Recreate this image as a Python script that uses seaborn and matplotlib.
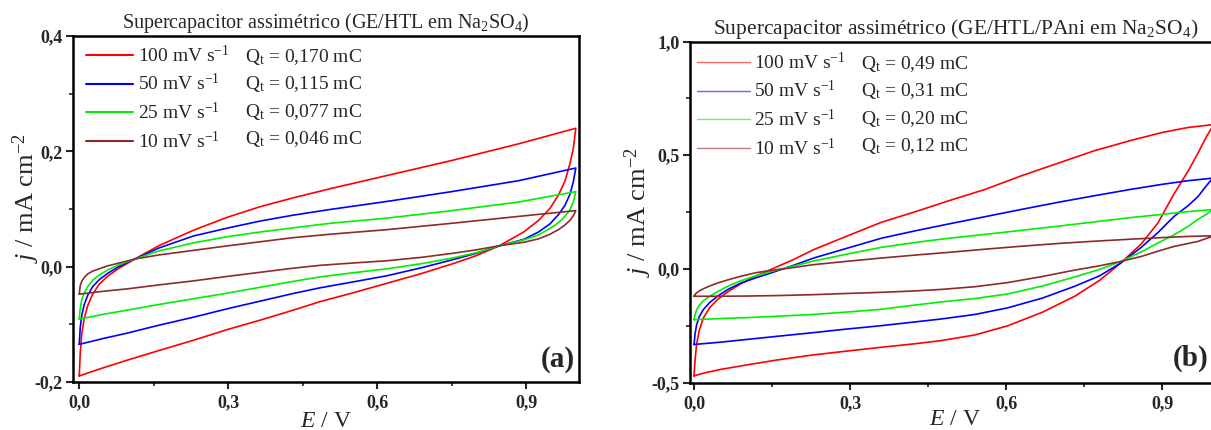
import matplotlib
matplotlib.use("Agg")
import matplotlib.pyplot as plt
from matplotlib.lines import Line2D
from matplotlib.ticker import FixedLocator, MultipleLocator
import pandas as pd
import seaborn as sns

# ---------------------------------------------------------------- data
scan_rates = ["100", "50", "25", "10"]
rate_labels = [r"100 mV s$^{-1}$", r"50 mV s$^{-1}$", r"25 mV s$^{-1}$", r"10 mV s$^{-1}$"]
charge_a = ["0,170", "0,115", "0,077", "0,046"]
charge_b = ["0,49", "0,31", "0,20", "0,12"]
line_colors = ["#FF0000", "#0000FF", "#00EE00", "#8E2A2A"]

title_a = r"Supercapacitor assimétrico (GE/HTL em Na$_2$SO$_4$)"
title_b = r"Supercapacitor assimétrico (GE/HTL/PAni em Na$_2$SO$_4$)"

x_ticks = [0.0, 0.3, 0.6, 0.9]
x_tick_labels = ["0,0", "0,3", "0,6", "0,9"]
y_ticks_a = [-0.2, 0.0, 0.2, 0.4]
y_tick_labels_a = ["-0,2", "0,0", "0,2", "0,4"]
y_ticks_b = [-0.5, 0.0, 0.5, 1.0]
y_tick_labels_b = ["-0,5", "0,0", "0,5", "1,0"]

# (a) GE/HTL: potential of the anodic (forward) and cathodic (reverse) sweeps, V
E_fwd_a = [0.000, 0.002, 0.005, 0.010, 0.017, 0.027, 0.040, 0.057, 0.080, 0.112,
           0.160, 0.230, 0.300, 0.365, 0.430, 0.505, 0.620, 0.750, 0.885, 1.000]
E_rev_a = [1.000, 0.995, 0.988, 0.978, 0.965, 0.948, 0.925, 0.895, 0.846, 0.800,
           0.753, 0.690, 0.620, 0.550, 0.485, 0.430, 0.365, 0.300, 0.230, 0.160,
           0.095, 0.048, 0.020, 0.000]
# current density, mA cm-2
j_fwd_a_100 = [-0.190, -0.150, -0.118, -0.090, -0.068, -0.048, -0.031, -0.017, -0.003, 0.013,
               0.036, 0.063, 0.086, 0.104, 0.119, 0.135, 0.158, 0.184, 0.213, 0.240]
j_fwd_a_50 = [-0.135, -0.106, -0.085, -0.066, -0.050, -0.035, -0.023, -0.012, 0.000, 0.013,
              0.032, 0.053, 0.067, 0.079, 0.089, 0.099, 0.113, 0.130, 0.149, 0.171]
j_fwd_a_25 = [-0.091, -0.072, -0.058, -0.046, -0.035, -0.024, -0.015, -0.006, 0.003, 0.013,
              0.027, 0.041, 0.052, 0.060, 0.067, 0.075, 0.084, 0.097, 0.112, 0.130]
j_fwd_a_10 = [-0.048, -0.033, -0.026, -0.019, -0.013, -0.008, -0.004, 0.001, 0.006, 0.013,
              0.020, 0.028, 0.036, 0.043, 0.050, 0.056, 0.064, 0.075, 0.087, 0.097]
j_rev_a_100 = [0.240, 0.205, 0.178, 0.148, 0.124, 0.101, 0.080, 0.060, 0.036, 0.019,
               0.005, -0.012, -0.029, -0.046, -0.061, -0.076, -0.093, -0.109, -0.128, -0.146,
               -0.163, -0.176, -0.184, -0.190]
j_rev_a_50 = [0.171, 0.147, 0.125, 0.106, 0.090, 0.074, 0.060, 0.047, 0.036, 0.023,
              0.012, -0.002, -0.016, -0.027, -0.037, -0.047, -0.060, -0.073, -0.088, -0.102,
              -0.116, -0.125, -0.131, -0.135]
j_rev_a_25 = [0.130, 0.112, 0.098, 0.087, 0.076, 0.066, 0.055, 0.046, 0.036, 0.024,
              0.015, 0.005, -0.004, -0.011, -0.018, -0.026, -0.036, -0.046, -0.056, -0.066,
              -0.076, -0.083, -0.088, -0.091]
j_rev_a_10 = [0.097, 0.088, 0.080, 0.072, 0.064, 0.056, 0.048, 0.042, 0.036, 0.029,
              0.023, 0.016, 0.010, 0.006, 0.002, -0.003, -0.010, -0.017, -0.025, -0.032,
              -0.039, -0.043, -0.046, -0.048]

# (b) GE/HTL/PAni
E_fwd_b = [0.000, 0.002, 0.005, 0.010, 0.018, 0.030, 0.045, 0.065, 0.090, 0.120,
           0.150, 0.190, 0.230, 0.300, 0.360, 0.430, 0.490, 0.560, 0.630, 0.700,
           0.770, 0.840, 0.900, 0.950, 1.000]
E_rev_b = [1.000, 0.994, 0.985, 0.969, 0.950, 0.923, 0.892, 0.860, 0.8205, 0.780,
           0.732, 0.670, 0.603, 0.540, 0.475, 0.420, 0.357, 0.290, 0.229, 0.160,
           0.101, 0.050, 0.020, 0.000]
j_fwd_b_100 = [-0.470, -0.400, -0.330, -0.270, -0.215, -0.170, -0.135, -0.100, -0.065, -0.030,
               0.000, 0.040, 0.085, 0.150, 0.205, 0.255, 0.300, 0.350, 0.410, 0.465,
               0.520, 0.565, 0.600, 0.622, 0.635]
j_fwd_b_50 = [-0.332, -0.285, -0.245, -0.210, -0.178, -0.148, -0.120, -0.090, -0.062, -0.038,
              -0.016, 0.015, 0.048, 0.095, 0.135, 0.170, 0.198, 0.230, 0.262, 0.293,
              0.322, 0.350, 0.372, 0.388, 0.400]
j_fwd_b_25 = [-0.223, -0.200, -0.180, -0.160, -0.140, -0.120, -0.100, -0.076, -0.052, -0.029,
              -0.010, 0.012, 0.035, 0.068, 0.095, 0.118, 0.135, 0.152, 0.170, 0.188,
              0.207, 0.226, 0.240, 0.252, 0.262]
j_fwd_b_10 = [-0.120, -0.112, -0.105, -0.097, -0.087, -0.075, -0.062, -0.048, -0.032, -0.016,
              -0.006, 0.006, 0.019, 0.035, 0.048, 0.062, 0.073, 0.087, 0.100, 0.112,
              0.122, 0.131, 0.138, 0.143, 0.146]
j_rev_b_100 = [0.635, 0.615, 0.580, 0.509, 0.430, 0.330, 0.202, 0.110, 0.026, -0.050,
               -0.120, -0.190, -0.250, -0.290, -0.315, -0.330, -0.345, -0.362, -0.378, -0.400,
               -0.422, -0.442, -0.457, -0.470]
j_rev_b_50 = [0.400, 0.390, 0.365, 0.318, 0.278, 0.231, 0.160, 0.095, 0.026, -0.030,
              -0.076, -0.128, -0.171, -0.200, -0.220, -0.234, -0.250, -0.265, -0.280, -0.296,
              -0.310, -0.322, -0.328, -0.332]
j_rev_b_25 = [0.262, 0.255, 0.240, 0.218, 0.187, 0.150, 0.114, 0.075, 0.033, -0.002,
              -0.035, -0.075, -0.110, -0.130, -0.145, -0.160, -0.178, -0.190, -0.200, -0.208,
              -0.214, -0.218, -0.221, -0.223]
j_rev_b_10 = [0.146, 0.141, 0.134, 0.121, 0.112, 0.099, 0.078, 0.055, 0.033, 0.014,
              -0.005, -0.033, -0.060, -0.078, -0.090, -0.097, -0.103, -0.108, -0.113, -0.117,
              -0.119, -0.120, -0.120, -0.120]


def cv_frame(E_fwd, E_rev, j_fwd, j_rev):
    """Closed voltammogram loops (forward then reverse sweep) in long form."""
    parts = []
    for rate, jf, jr in zip(scan_rates, j_fwd, j_rev):
        E = list(E_fwd) + list(E_rev)
        j = list(jf) + list(jr)
        parts.append(pd.DataFrame({"E": E, "j": j, "rate": rate, "step": range(len(E))}))
    return pd.concat(parts, ignore_index=True)


df_a = cv_frame(E_fwd_a, E_rev_a,
                [j_fwd_a_100, j_fwd_a_50, j_fwd_a_25, j_fwd_a_10],
                [j_rev_a_100, j_rev_a_50, j_rev_a_25, j_rev_a_10])
df_b = cv_frame(E_fwd_b, E_rev_b,
                [j_fwd_b_100, j_fwd_b_50, j_fwd_b_25, j_fwd_b_10],
                [j_rev_b_100, j_rev_b_50, j_rev_b_25, j_rev_b_10])

# ---------------------------------------------------------------- style
sns.set_theme(style="ticks")
plt.rcParams.update({
    "font.family": ["Liberation Serif", "DejaVu Serif"],
    "mathtext.fontset": "custom",
    "mathtext.rm": "Liberation Serif",
    "mathtext.it": "Liberation Serif:italic",
    "mathtext.bf": "Liberation Serif:bold",
    "axes.linewidth": 1.8,
    "axes.edgecolor": "black",
    "figure.facecolor": "white",
    "axes.facecolor": "white",
})

W, H = 1211, 430
fig = plt.figure(figsize=(W / 100, H / 100), dpi=100)
ax_a = fig.add_axes([73.3 / W, 1 - 381.7 / H, 506.0 / W, 345.6 / H])
ax_b = fig.add_axes([690.4 / W, 1 - 382.7 / H, 529.9 / W, 341.2 / H])


def draw_panel(ax, df, xlim, ylim, yticks, yticklabels, yminor, title, title_size,
               title_pad, charges, letter, letter_xy, ylabel_x, ylabel_y, xlabel_pad,
               legend_anchor, handle_len, col_space, legend_lw, legend_alpha):
    sns.lineplot(data=df, x="E", y="j", hue="rate", hue_order=scan_rates,
                 palette=line_colors, sort=False, estimator=None, legend=False,
                 lw=1.2, ax=ax)
    ax.set_xlim(*xlim)
    ax.set_ylim(*ylim)
    ax.xaxis.set_major_locator(FixedLocator(x_ticks))
    ax.set_xticklabels(x_tick_labels)
    ax.xaxis.set_minor_locator(MultipleLocator(0.15))
    ax.yaxis.set_major_locator(FixedLocator(yticks))
    ax.set_yticklabels(yticklabels)
    ax.yaxis.set_minor_locator(MultipleLocator(yminor))
    ax.tick_params(which="major", direction="out", length=5, width=1.5,
                   labelsize=13, pad=2.5)
    ax.tick_params(axis="x", which="major", pad=4)
    ax.tick_params(which="minor", direction="out", length=3, width=1.2)
    for lab in ax.get_xticklabels() + ax.get_yticklabels():
        lab.set_fontweight("bold")
    for sp in ax.spines.values():
        sp.set_visible(True)
        sp.set_linewidth(1.8)

    ax.set_xlabel(r"$E$ / V", fontsize=17, labelpad=xlabel_pad)
    ax.set_ylabel(r"$j$ / mA cm$^{-2}$", fontsize=19)
    ax.yaxis.set_label_coords(ylabel_x, ylabel_y)
    ax.set_title(title, fontsize=title_size, pad=title_pad)

    ax.text(letter_xy[0], letter_xy[1], letter, transform=ax.transAxes,
            ha="right", va="center", fontsize=21, fontweight="bold")

    handles = [Line2D([], [], color=c, lw=legend_lw, alpha=legend_alpha) for c in line_colors]
    blanks = [Line2D([], [], color="none") for _ in charges]
    labels = rate_labels + [r"Q$_{\mathrm{t}}$ = " + q + " mC" for q in charges]
    ax.legend(handles + blanks, labels, ncol=2, loc="upper left",
              bbox_to_anchor=legend_anchor, frameon=False, fontsize=14,
              handlelength=handle_len, handletextpad=0.25, columnspacing=col_space,
              labelspacing=0.38, borderpad=0, borderaxespad=0)


draw_panel(ax_a, df_a, (-0.012, 1.007), (-0.2, 0.4), y_ticks_a, y_tick_labels_a, 0.1,
           title_a, 14.5, 6, charge_a, "(a)", (0.991, 0.065), -0.062, 0.53, 0,
           (0.025, 0.975), 2.42, -1.9, 1.5, 1.0)
draw_panel(ax_b, df_b, (-0.007, 1.012), (-0.5, 1.0), y_ticks_b, y_tick_labels_b, 0.25,
           title_b, 15.5, 4, charge_b, "(b)", (0.977, 0.07), -0.068, 0.5, -2,
           (0.0125, 0.97), 2.7, -2.2, 1.0, 0.6)

fig.savefig("out.png", dpi=100)
